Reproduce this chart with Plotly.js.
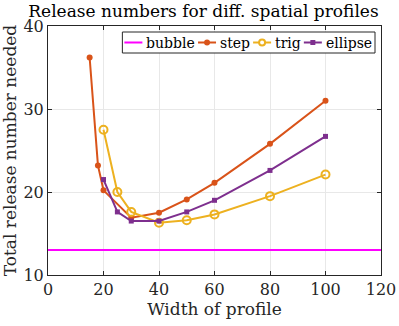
<!DOCTYPE html>
<html>
<head>
<meta charset="utf-8">
<script src="https://cdn.plot.ly/plotly-3.0.1.min.js"></script>
<style>
  html, body { margin: 0; padding: 0; background: #fff; }
  #chart { width: 399px; height: 326px; }
</style>
</head>
<body>
<div id="chart"></div>
<script>
// widths tested, per profile
var bubbleX = [0, 120];
var bubbleY = [13, 13];

var stepX = [15, 18, 20, 30, 40, 50, 60, 80, 100];
var stepY = [36.2, 23.2, 20.2, 16.9, 17.5, 19.1, 21.1, 25.8, 31.0];

var trigX = [20, 25, 30, 40, 50, 60, 80, 100];
var trigY = [27.5, 20.0, 17.6, 16.3, 16.6, 17.3, 19.5, 22.1];

var ellipseX = [20, 25, 30, 40, 50, 60, 80, 100];
var ellipseY = [21.5, 17.6, 16.5, 16.5, 17.6, 19.0, 22.6, 26.7];

var seriesNames = ['bubble', 'step', 'trig', 'ellipse'];
var xTicks = [0, 20, 40, 60, 80, 100, 120];
var yTicks = [10, 20, 30, 40];

var serif = "'DejaVu Serif', 'Liberation Serif', serif";
var colors = ['#FF00FF', '#D95319', '#EDB120', '#7E2F8E'];

var W = 399, H = 326;
var margin = {l: 48, r: 18, t: 26, b: 51};
var plotW = W - margin.l - margin.r;
var plotH = H - margin.t - margin.b;

var traces = [
    {x: bubbleX, y: bubbleY, name: seriesNames[0], mode: 'lines',
     line: {color: colors[0], width: 2}},
    {x: stepX, y: stepY, name: seriesNames[1], mode: 'lines+markers',
     line: {color: colors[1], width: 2},
     marker: {symbol: 'circle', size: 6, color: colors[1]}},
    {x: trigX, y: trigY, name: seriesNames[2], mode: 'lines+markers',
     line: {color: colors[2], width: 2},
     marker: {symbol: 'circle-open', size: 8, color: colors[2], line: {width: 2}}},
    {x: ellipseX, y: ellipseY, name: seriesNames[3], mode: 'lines+markers',
     line: {color: colors[3], width: 2},
     marker: {symbol: 'square', size: 5, color: colors[3]}}
];

// matlab style legend, built by hand because plotly's item width is too wide
var legendFont = 14;
var ctx = document.createElement('canvas').getContext('2d');
ctx.font = legendFont + 'px "DejaVu Serif"';
var sampleLen = 18, gapAfterSample = 3, gapAfterText = 4;
var widths = seriesNames.map(function (n) { return ctx.measureText(n).width; });
var total = 2;
widths.forEach(function (w) { total += sampleLen + gapAfterSample + w + gapAfterText; });
var boxRight = 375, boxTop = 32, boxBottom = 53;
var boxLeft = boxRight - total;
var midY = (boxTop + boxBottom) / 2;

function px2x(p) { return (p - margin.l) / plotW; }
function px2y(p) { return 1 - (p - margin.t) / plotH; }

var shapes = [{
    type: 'rect', xref: 'paper', yref: 'paper',
    x0: px2x(boxLeft), x1: px2x(boxRight), y0: px2y(boxBottom), y1: px2y(boxTop),
    fillcolor: '#fff', line: {color: '#262626', width: 1}, layer: 'above'
}];
var annotations = [];
var cur = boxLeft + 2;
seriesNames.forEach(function (name, i) {
    shapes.push({
        type: 'line', xref: 'paper', yref: 'paper', layer: 'above',
        x0: px2x(cur), x1: px2x(cur + sampleLen), y0: px2y(midY), y1: px2y(midY),
        line: {color: colors[i], width: 2}
    });
    var cx = px2x(cur + sampleLen / 2), cy = px2y(midY);
    var mk = {xref: 'paper', yref: 'paper', layer: 'above', xsizemode: 'pixel', ysizemode: 'pixel',
              xanchor: cx, yanchor: cy};
    if (i === 1) {
        shapes.push(Object.assign({type: 'circle', x0: -3, x1: 3, y0: -3, y1: 3,
            fillcolor: colors[i], line: {color: colors[i], width: 0}}, mk));
    } else if (i === 2) {
        shapes.push(Object.assign({type: 'circle', x0: -3, x1: 3, y0: -3, y1: 3,
            fillcolor: '#fff', line: {color: colors[i], width: 2}}, mk));
    } else if (i === 3) {
        shapes.push(Object.assign({type: 'rect', x0: -2.5, x1: 2.5, y0: -2.5, y1: 2.5,
            fillcolor: colors[i], line: {color: colors[i], width: 0}}, mk));
    }
    cur += sampleLen + gapAfterSample;
    annotations.push({
        xref: 'paper', yref: 'paper', x: px2x(cur), y: px2y(midY),
        xanchor: 'left', yanchor: 'middle', showarrow: false,
        text: name, font: {family: serif, size: legendFont, color: '#000'},
        borderpad: 0
    });
    cur += widths[i] + gapAfterText;
});

var axisCommon = {
    showline: true,
    linecolor: '#262626',
    linewidth: 1,
    mirror: 'allticks',
    ticks: 'inside',
    ticklen: 4,
    tickcolor: '#262626',
    showgrid: true,
    gridcolor: '#E8E8E8',
    zeroline: false,
    tickfont: {family: serif, size: 16, color: '#262626'}
};

var layout = {
    width: W,
    height: H,
    paper_bgcolor: '#fff',
    plot_bgcolor: '#fff',
    margin: margin,
    title: {text: 'Release numbers for diff. spatial profiles',
            font: {family: serif, size: 17, color: '#000'},
            x: 0.51, xanchor: 'center',
            yref: 'container', y: 0.985, yanchor: 'top'},
    xaxis: Object.assign({}, axisCommon, {
        range: [0, 120], tickvals: xTicks,
        title: {text: 'Width of profile', font: {family: serif, size: 17, color: '#262626'}, standoff: 4}
    }),
    yaxis: Object.assign({}, axisCommon, {
        range: [10, 40], tickvals: yTicks,
        title: {text: 'Total release number needed', font: {family: serif, size: 17, color: '#262626'}, standoff: 4}
    }),
    showlegend: false,
    shapes: shapes,
    annotations: annotations
};

Plotly.newPlot('chart', traces, layout, {displayModeBar: false, staticPlot: true});
</script>
</body>
</html>
